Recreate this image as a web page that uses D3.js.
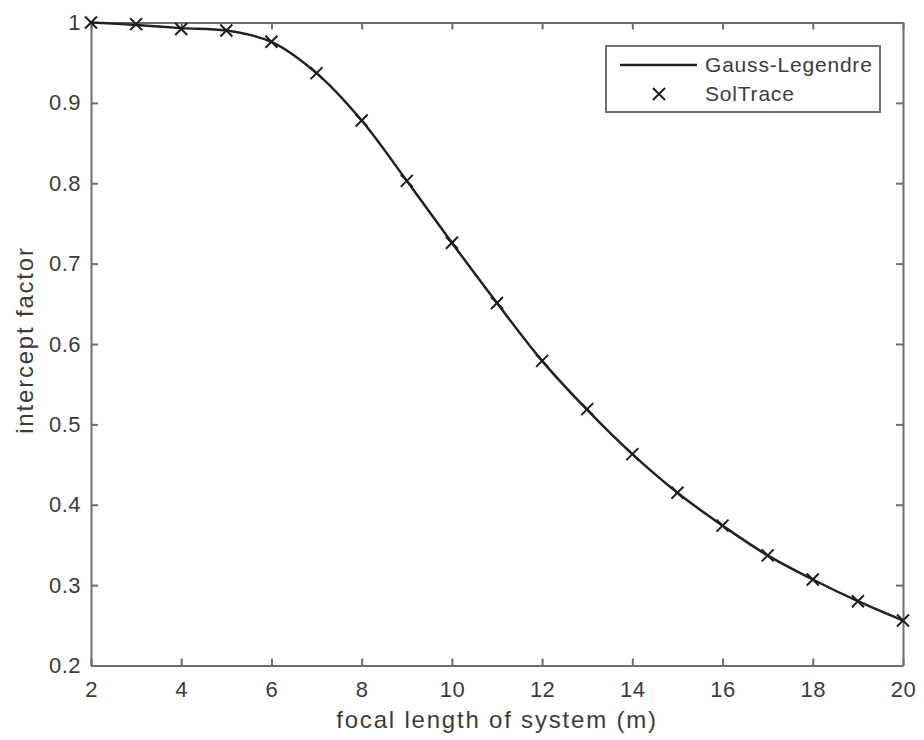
<!DOCTYPE html>
<html lang="en">
<head>
    <meta charset="UTF-8">
    <title>Intercept factor</title>
    <script src="https://cdn.jsdelivr.net/npm/d3@7"></script>
    <style>
        body{ margin: 0; background: #fff; }
        text{ font-family: "Liberation Sans", Arial, sans-serif; fill: #3c3c3c; }
        .axis path, .axis line{ stroke: #6e6e6e; stroke-width: 2; }
    </style>
</head>
<body>
    <svg id="main" width="924" height="740"></svg>
    <script>
        // data
        let focalLength = [2, 3, 4, 5, 6, 7, 8, 9, 10, 11, 12, 13, 14, 15, 16, 17, 18, 19, 20];
        let gaussLegendre = [1.0, 0.997, 0.993, 0.990, 0.976, 0.937, 0.878, 0.803, 0.726, 0.651,
                             0.579, 0.518, 0.463, 0.415, 0.374, 0.337, 0.307, 0.280, 0.256];
        let solTrace = [1.0, 0.998, 0.992, 0.990, 0.976, 0.937, 0.878, 0.803, 0.726, 0.651,
                        0.579, 0.519, 0.463, 0.415, 0.374, 0.337, 0.307, 0.280, 0.256];
        let xTicks = [2, 4, 6, 8, 10, 12, 14, 16, 18, 20];
        let yTicks = [0.2, 0.3, 0.4, 0.5, 0.6, 0.7, 0.8, 0.9, 1];
        let legendLabels = ['Gauss-Legendre', 'SolTrace'];

        let svg = d3.select('svg#main');
        let box = {left: 91, right: 903, top: 22.5, bottom: 665.5};

        let xScale = d3.scaleLinear().domain([2, 20]).range([box.left, box.right]);
        let yScale = d3.scaleLinear().domain([0.2, 1]).range([box.bottom, box.top]);

        // axes, matlab style: ticks inward, box all round
        let gx = svg.append('g').attr('class', 'axis')
            .attr('transform', 'translate(0,' + box.bottom + ')')
            .call(d3.axisBottom(xScale).tickValues(xTicks).tickSizeInner(-7).tickSizeOuter(0).tickPadding(16));
        let gy = svg.append('g').attr('class', 'axis')
            .attr('transform', 'translate(' + box.left + ',0)')
            .call(d3.axisLeft(yScale).tickValues(yTicks).tickFormat(d3.format('')).tickSizeInner(-7).tickSizeOuter(0).tickPadding(10));
        svg.append('g').attr('class', 'axis')
            .attr('transform', 'translate(0,' + box.top + ')')
            .call(d3.axisTop(xScale).tickValues(xTicks).tickFormat('').tickSizeInner(-7).tickSizeOuter(0));
        svg.append('g').attr('class', 'axis')
            .attr('transform', 'translate(' + box.right + ',0)')
            .call(d3.axisRight(yScale).tickValues(yTicks).tickFormat('').tickSizeInner(-7).tickSizeOuter(0));

        svg.selectAll('.axis text')
            .style('font-size', '22px')
            .style('letter-spacing', '0.5px')
            .attr('fill', '#3c3c3c');

        // axis titles
        svg.append('text')
            .attr('x', (box.left + box.right) / 2)
            .attr('y', 728)
            .attr('text-anchor', 'middle')
            .style('font-size', '24px')
            .style('letter-spacing', '1.8px')
            .text('focal length of system (m)');
        svg.append('text')
            .attr('transform', 'translate(33,340) rotate(-90)')
            .attr('text-anchor', 'middle')
            .style('font-size', '24px')
            .style('letter-spacing', '1.8px')
            .text('intercept factor');

        // curve
        let line = d3.line()
            .x(function(d, i){ return xScale(focalLength[i]); })
            .y(function(d){ return yScale(d); })
            .curve(d3.curveCatmullRom);
        svg.append('path')
            .datum(gaussLegendre)
            .attr('d', line)
            .attr('fill', 'none')
            .attr('stroke', '#222')
            .attr('stroke-width', 2.5);

        // x markers
        let m = 6;
        function cross(sel){
            sel.append('path')
                .attr('d', 'M' + (-m) + ',' + (-m) + 'L' + m + ',' + m + 'M' + (-m) + ',' + m + 'L' + m + ',' + (-m))
                .attr('stroke', '#1e1e1e')
                .attr('stroke-width', 2)
                .attr('fill', 'none');
        }
        svg.selectAll('g.marker')
            .data(solTrace)
            .enter()
            .append('g')
            .attr('class', 'marker')
            .attr('transform', function(d, i){ return 'translate(' + xScale(focalLength[i]) + ',' + yScale(d) + ')'; })
            .call(cross);

        // legend
        let lg = svg.append('g');
        lg.append('rect')
            .attr('x', 606).attr('y', 46)
            .attr('width', 274).attr('height', 66)
            .attr('fill', '#fff')
            .attr('stroke', '#707070')
            .attr('stroke-width', 2);
        lg.append('line')
            .attr('x1', 620).attr('x2', 697)
            .attr('y1', 65).attr('y2', 65)
            .attr('stroke', '#222')
            .attr('stroke-width', 2.5);
        lg.append('g')
            .attr('transform', 'translate(659,94)')
            .call(cross);
        lg.selectAll('text.lab')
            .data(legendLabels)
            .enter()
            .append('text')
            .attr('class', 'lab')
            .attr('x', 705)
            .attr('y', function(d, i){ return 72 + i * 29; })
            .style('font-size', '21px')
            .style('letter-spacing', '0.8px')
            .text(function(d){ return d; });
    </script>
</body>
</html>
